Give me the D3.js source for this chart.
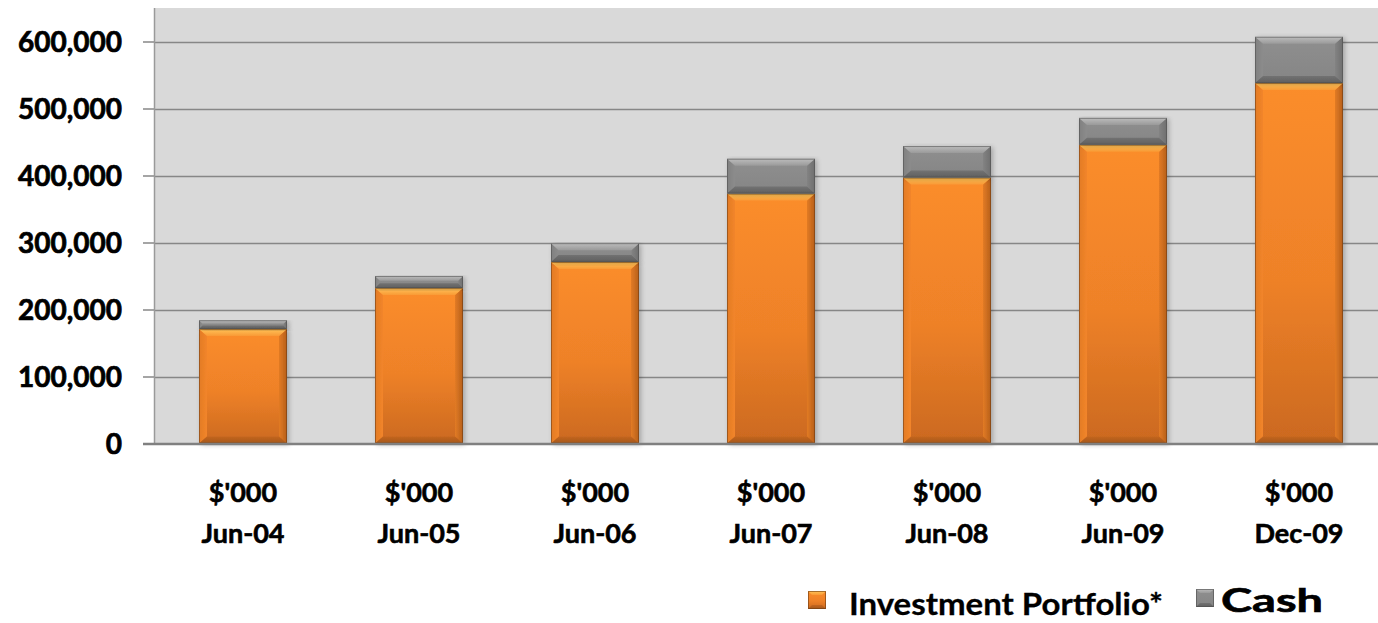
<!DOCTYPE html>
<html>
<head>
<meta charset="utf-8">
<script src="https://cdn.jsdelivr.net/npm/d3@7"></script>
<style>
  html, body { margin: 0; padding: 0; background: #ffffff; }
  svg { display: block; }
</style>
</head>
<body>
<svg id="chart" width="1378" height="623"></svg>
<script>
// ---- data ----
const categories = ["Jun-04", "Jun-05", "Jun-06", "Jun-07", "Jun-08", "Jun-09", "Dec-09"];
const unitLabel = "$'000";
const investment = [171000, 232000, 271000, 373000, 397000, 446000, 538000];
const cash = [13000, 18000, 28000, 52000, 47000, 40000, 69000];
const seriesNames = ["Investment Portfolio*", "Cash"];
const yTicks = [0, 100000, 200000, 300000, 400000, 500000, 600000];

// ---- layout ----
const W = 1378, H = 623;
const plot = { left: 155, right: 1387, top: 8, bottom: 443.5 };
const FONT = "Lato, 'Open Sans', sans-serif";

const svg = d3.select("#chart");
const defs = svg.append("defs");

function grad(id, stops, x2 = 0, y2 = 1) {
  const g = defs.append("linearGradient").attr("id", id)
    .attr("x1", 0).attr("y1", 0).attr("x2", x2).attr("y2", y2);
  stops.forEach(([o, c]) => g.append("stop").attr("offset", o).attr("stop-color", c));
}
grad("orangeMain", [[0, "#fb8d2b"], [0.55, "#ee8128"], [1, "#cb691f"]]);
grad("orangeTop", [[0, "#ffc45a"], [1, "#f99a35"]]);
grad("orangeLeft", [[0, "#e27b25"], [1, "#f2852a"]], 1, 0);
grad("orangeRight", [[0, "#e27b25"], [1, "#b65f1a"]], 1, 0);
grad("orangeBottom", [[0, "#c46620"], [1, "#a3561a"]]);
grad("grayMain", [[0, "#8f8f8f"], [1, "#858585"]]);
grad("grayTop", [[0, "#bdbdbd"], [1, "#9a9a9a"]]);
grad("grayLeft", [[0, "#808080"], [1, "#8c8c8c"]], 1, 0);
grad("grayRight", [[0, "#838383"], [1, "#6e6e6e"]], 1, 0);
grad("grayBottom", [[0, "#727272"], [1, "#5f5f5f"]]);

const shadow = defs.append("filter").attr("id", "shadow")
  .attr("x", "-10%").attr("y", "-10%").attr("width", "130%").attr("height", "130%");
shadow.append("feGaussianBlur").attr("in", "SourceAlpha").attr("stdDeviation", 2.5).attr("result", "b");
shadow.append("feOffset").attr("in", "b").attr("dx", 2).attr("dy", 1).attr("result", "o");
shadow.append("feComponentTransfer").attr("in", "o").attr("result", "s")
  .append("feFuncA").attr("type", "linear").attr("slope", 0.25);
const fm = shadow.append("feMerge");
fm.append("feMergeNode").attr("in", "s");
fm.append("feMergeNode").attr("in", "SourceGraphic");

// ---- scales ----
const x = d3.scaleBand().domain(categories)
  .range([plot.left, plot.right]).paddingInner(0.5).paddingOuter(0.25);
const y = d3.scaleLinear().domain([0, 600000]).range([plot.bottom, 41.5]);

// plot background
svg.append("rect")
  .attr("x", plot.left).attr("y", plot.top)
  .attr("width", W - plot.left).attr("height", plot.bottom - plot.top)
  .attr("fill", "#d9d9d9");

// gridlines
svg.append("g").selectAll("line").data(yTicks.filter(d => d > 0)).join("line")
  .attr("x1", plot.left).attr("x2", W)
  .attr("y1", d => Math.round(y(d)) + 0.5).attr("y2", d => Math.round(y(d)) + 0.5)
  .attr("stroke", "#878787").attr("stroke-width", 1.5);

// y axis
const yAxis = d3.axisLeft(y).tickValues(yTicks).tickFormat(d3.format(",")).tickSize(12).tickPadding(21);
const yg = svg.append("g").attr("transform", `translate(${plot.left},0)`).call(yAxis);
yg.select(".domain").remove();
yg.selectAll(".tick line").attr("stroke", "#878787").attr("stroke-width", 1.5);
yg.selectAll(".tick text")
  .attr("fill", "#000").attr("stroke", "#000").attr("stroke-width", 0.7)
  .attr("font-family", FONT).attr("font-weight", 700)
  .attr("font-size", 28).attr("dy", "0.36em");
svg.append("line")
  .attr("x1", plot.left - 0.5).attr("x2", plot.left - 0.5)
  .attr("y1", plot.top).attr("y2", plot.bottom)
  .attr("stroke", "#9a9a9a").attr("stroke-width", 1.5);

// ---- bars ----
const rows = categories.map((c, i) => ({ cat: c, inv: investment[i], cash: cash[i] }));
const stack = d3.stack().keys(["inv", "cash"]);
const series = stack(rows);
const palettes = [
  { main: "url(#orangeMain)", top: "url(#orangeTop)", left: "url(#orangeLeft)", right: "url(#orangeRight)", bottom: "url(#orangeBottom)", edge: "#6a3a12" },
  { main: "url(#grayMain)", top: "url(#grayTop)", left: "url(#grayLeft)", right: "url(#grayRight)", bottom: "url(#grayBottom)", edge: "#4d4d4d" }
];

const barsG = svg.append("g");
series.forEach((s, si) => {
  const p = palettes[si];
  s.forEach(d => {
    const x0 = x(d.data.cat), w = x.bandwidth();
    const y0 = y(d[1]), h = y(d[0]) - y(d[1]);
    const b = Math.min(8, h / 2.5);
    const bt = Math.min(7, h / 2.5);
    const g = barsG.append("g").attr("filter", "url(#shadow)");
    g.append("rect").attr("x", x0).attr("y", y0).attr("width", w).attr("height", h).attr("fill", p.main);
    const poly = pts => pts.map(q => q.join(",")).join(" ");
    g.append("polygon").attr("fill", p.left)
      .attr("points", poly([[x0, y0], [x0 + b, y0 + bt], [x0 + b, y0 + h - bt], [x0, y0 + h]]));
    g.append("polygon").attr("fill", p.right)
      .attr("points", poly([[x0 + w, y0], [x0 + w - b, y0 + bt], [x0 + w - b, y0 + h - bt], [x0 + w, y0 + h]]));
    g.append("polygon").attr("fill", p.bottom)
      .attr("points", poly([[x0, y0 + h], [x0 + b, y0 + h - bt], [x0 + w - b, y0 + h - bt], [x0 + w, y0 + h]]));
    g.append("polygon").attr("fill", p.top)
      .attr("points", poly([[x0, y0], [x0 + w, y0], [x0 + w - b, y0 + bt], [x0 + b, y0 + bt]]));
    g.append("rect").attr("x", x0 + 0.5).attr("y", y0 + 0.5).attr("width", w - 1).attr("height", Math.max(0, h - 1))
      .attr("fill", "none").attr("stroke", p.edge).attr("stroke-opacity", 0.55).attr("stroke-width", 1);
  });
});

// bottom axis line
svg.append("line")
  .attr("x1", plot.left - 12).attr("x2", W)
  .attr("y1", plot.bottom + 0.5).attr("y2", plot.bottom + 0.5)
  .attr("stroke", "#808080").attr("stroke-width", 2.5);

// x labels
const xl = svg.append("g").selectAll("text").data(categories).join("text")
  .attr("x", d => x(d) + x.bandwidth() / 2)
  .attr("text-anchor", "middle")
  .attr("font-family", FONT).attr("font-weight", 700).attr("font-size", 27)
  .attr("fill", "#000").attr("stroke", "#000").attr("stroke-width", 0.6);
xl.append("tspan").attr("x", d => x(d) + x.bandwidth() / 2).attr("y", 502).text(unitLabel);
xl.append("tspan").attr("x", d => x(d) + x.bandwidth() / 2).attr("y", 543).text(d => d);

// ---- legend ----
const legendItems = [
  { name: seriesNames[0], sx: 808, sy: 591, ss: 18, tx: 849, ty: 615, fs: 31, len: 314, sw: 0.3, p: palettes[0] },
  { name: seriesNames[1], sx: 1196, sy: 589, ss: 18, tx: 1221, ty: 612, fs: 32, len: 102, sw: 0.6, p: palettes[1] }
];
const lg = svg.append("g").selectAll("g").data(legendItems).join("g");
lg.append("rect").attr("x", d => d.sx).attr("y", d => d.sy).attr("width", d => d.ss).attr("height", d => d.ss)
  .attr("fill", d => d.p.main);
lg.append("polygon").attr("fill", d => d.p.top)
  .attr("points", d => `${d.sx},${d.sy} ${d.sx + d.ss},${d.sy} ${d.sx + d.ss - 4},${d.sy + 4} ${d.sx + 4},${d.sy + 4}`);
lg.append("polygon").attr("fill", d => d.p.bottom)
  .attr("points", d => `${d.sx},${d.sy + d.ss} ${d.sx + d.ss},${d.sy + d.ss} ${d.sx + d.ss - 4},${d.sy + d.ss - 4} ${d.sx + 4},${d.sy + d.ss - 4}`);
lg.append("rect").attr("x", d => d.sx + 0.5).attr("y", d => d.sy + 0.5).attr("width", d => d.ss - 1).attr("height", d => d.ss - 1)
  .attr("fill", "none").attr("stroke", d => d.p.edge).attr("stroke-opacity", 0.6);
lg.append("text").attr("x", d => d.tx).attr("y", d => d.ty)
  .attr("font-family", FONT).attr("font-weight", 700).attr("font-size", d => d.fs)
  .attr("fill", "#000").attr("stroke", "#000").attr("stroke-width", d => d.sw)
  .attr("textLength", d => d.len).attr("lengthAdjust", "spacingAndGlyphs")
  .text(d => d.name);
</script>
</body>
</html>
